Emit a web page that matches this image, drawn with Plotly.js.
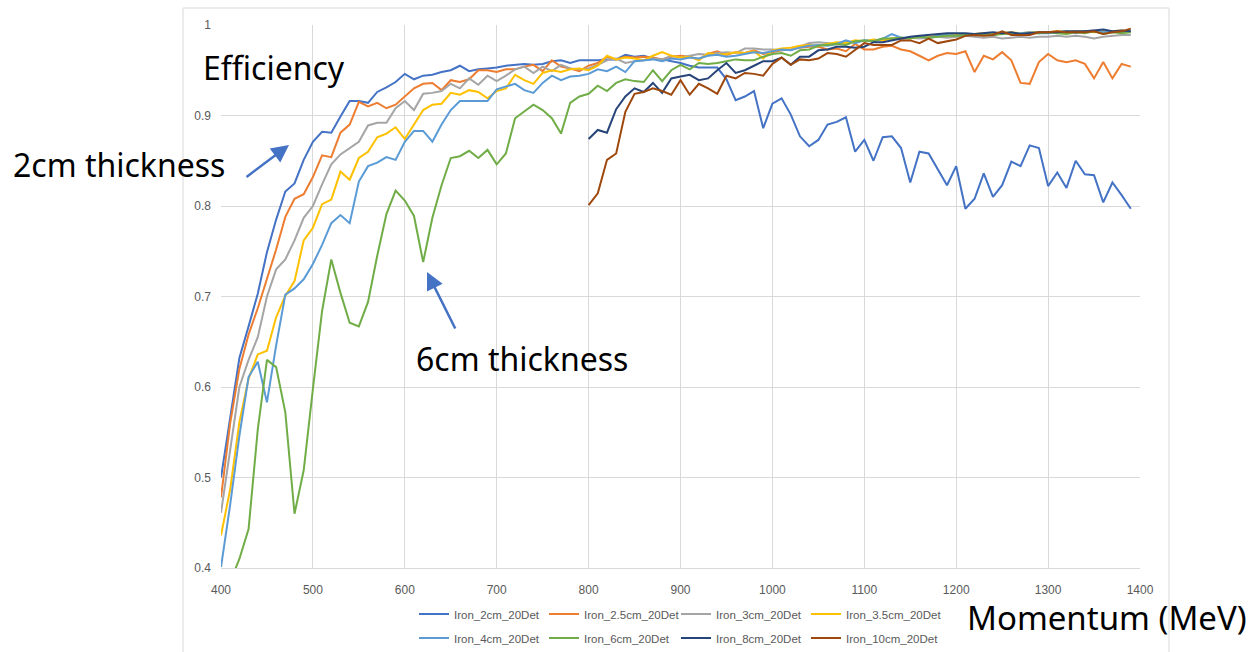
<!DOCTYPE html>
<html>
<head>
<meta charset="utf-8">
<script src="https://cdn.plot.ly/plotly-3.0.1.min.js"></script>
<style>html,body{margin:0;padding:0;background:#fff;}#chart{width:1250px;height:652px;}</style>
</head>
<body>
<div id="chart"></div>
<script>
// Momentum (MeV)
const momentum = [];
for (let m = 400; m <= 1390; m += 10) momentum.push(m);

const seriesNames = ["Iron_2cm_20Det","Iron_2.5cm_20Det","Iron_3cm_20Det","Iron_3.5cm_20Det",
                     "Iron_4cm_20Det","Iron_6cm_20Det","Iron_8cm_20Det","Iron_10cm_20Det"];

const iron2cm = [
0.500,0.565,0.632,0.667,0.703,0.749,0.785,0.816,0.825,0.851,
0.871,0.882,0.881,0.899,0.916,0.916,0.914,0.926,0.931,0.937,
0.946,0.940,0.944,0.945,0.948,0.950,0.955,0.949,0.951,0.952,
0.953,0.955,0.956,0.957,0.956,0.957,0.960,0.961,0.958,0.961,
0.961,0.961,0.962,0.962,0.967,0.965,0.966,0.963,0.962,0.960,
0.958,0.955,0.953,0.953,0.953,0.940,0.917,0.921,0.927,0.886,
0.913,0.919,0.901,0.877,0.866,0.873,0.890,0.893,0.898,0.860,
0.873,0.850,0.876,0.877,0.864,0.826,0.860,0.858,0.840,0.823,
0.844,0.797,0.808,0.836,0.810,0.823,0.849,0.844,0.867,0.864,
0.822,0.837,0.820,0.850,0.835,0.834,0.804,0.826,0.812,0.797];

const iron25cm = [
0.478,0.560,0.620,0.658,0.687,0.719,0.752,0.788,0.808,0.813,
0.832,0.856,0.854,0.881,0.890,0.915,0.910,0.914,0.908,0.912,
0.921,0.930,0.935,0.936,0.928,0.939,0.937,0.940,0.950,0.950,
0.948,0.951,0.951,0.954,0.956,0.949,0.961,0.954,0.952,0.949,
0.955,0.958,0.965,0.962,0.965,0.964,0.965,0.964,0.962,0.965,
0.966,0.965,0.962,0.968,0.971,0.967,0.970,0.969,0.972,0.968,
0.970,0.972,0.973,0.975,0.976,0.976,0.973,0.974,0.971,0.979,
0.973,0.973,0.976,0.977,0.973,0.971,0.966,0.961,0.966,0.969,
0.968,0.971,0.948,0.966,0.962,0.970,0.961,0.936,0.935,0.959,
0.968,0.961,0.959,0.961,0.957,0.941,0.959,0.941,0.957,0.954];

const iron3cm = [
0.461,0.530,0.600,0.630,0.655,0.700,0.730,0.741,0.762,0.787,
0.800,0.824,0.846,0.857,0.864,0.871,0.889,0.892,0.892,0.908,
0.916,0.906,0.924,0.925,0.927,0.935,0.930,0.941,0.934,0.944,
0.938,0.944,0.951,0.954,0.947,0.954,0.949,0.956,0.952,0.951,
0.952,0.956,0.961,0.963,0.958,0.960,0.961,0.963,0.962,0.966,
0.964,0.966,0.968,0.967,0.969,0.970,0.969,0.974,0.974,0.973,
0.973,0.972,0.973,0.976,0.980,0.981,0.980,0.979,0.981,0.982,
0.983,0.982,0.984,0.985,0.984,0.986,0.985,0.986,0.987,0.986,
0.987,0.988,0.987,0.986,0.987,0.985,0.986,0.987,0.986,0.987,
0.987,0.988,0.987,0.988,0.987,0.985,0.987,0.988,0.989,0.989];

const iron35cm = [
0.436,0.487,0.561,0.609,0.636,0.640,0.677,0.701,0.717,0.762,
0.776,0.802,0.807,0.838,0.829,0.853,0.860,0.876,0.880,0.887,
0.874,0.890,0.906,0.912,0.913,0.925,0.923,0.928,0.926,0.919,
0.927,0.930,0.945,0.939,0.935,0.947,0.950,0.948,0.951,0.952,
0.950,0.955,0.966,0.962,0.964,0.963,0.961,0.966,0.970,0.966,
0.964,0.965,0.961,0.969,0.967,0.968,0.970,0.969,0.971,0.963,
0.972,0.974,0.975,0.977,0.978,0.977,0.979,0.981,0.980,0.983,
0.982,0.984,0.983,0.985,0.986,0.985,0.987,0.987,0.988,0.988,
0.989,0.990,0.990,0.991,0.990,0.991,0.992,0.991,0.992,0.992,
0.992,0.993,0.992,0.993,0.993,0.992,0.993,0.993,0.994,0.993];

const iron4cm = [
0.401,0.470,0.546,0.611,0.628,0.583,0.646,0.702,0.709,0.719,
0.736,0.757,0.781,0.790,0.781,0.827,0.844,0.848,0.854,0.851,
0.871,0.883,0.883,0.871,0.890,0.906,0.916,0.916,0.916,0.916,
0.929,0.932,0.935,0.928,0.925,0.936,0.944,0.939,0.943,0.944,
0.946,0.951,0.949,0.954,0.948,0.960,0.961,0.962,0.960,0.963,
0.962,0.964,0.963,0.966,0.967,0.965,0.966,0.968,0.970,0.969,
0.971,0.973,0.972,0.975,0.977,0.978,0.977,0.979,0.983,0.980,
0.983,0.982,0.985,0.990,0.986,0.986,0.987,0.986,0.988,0.989,
0.988,0.989,0.990,0.990,0.989,0.991,0.990,0.991,0.992,0.991,
0.991,0.992,0.993,0.991,0.993,0.994,0.992,0.993,0.992,0.993];

const iron6cm = [
0.370,0.385,0.410,0.443,0.553,0.630,0.622,0.572,0.460,0.508,
0.598,0.684,0.741,0.704,0.671,0.667,0.694,0.745,0.791,0.817,
0.806,0.789,0.738,0.787,0.823,0.853,0.855,0.861,0.853,0.862,
0.846,0.858,0.897,0.905,0.912,0.906,0.897,0.880,0.914,0.921,
0.924,0.933,0.927,0.936,0.940,0.938,0.937,0.950,0.938,0.950,
0.956,0.951,0.958,0.957,0.958,0.960,0.962,0.961,0.961,0.965,
0.968,0.969,0.966,0.972,0.973,0.977,0.978,0.979,0.978,0.982,
0.983,0.982,0.985,0.985,0.986,0.985,0.987,0.986,0.987,0.988,
0.988,0.989,0.989,0.990,0.989,0.990,0.991,0.990,0.991,0.991,
0.992,0.991,0.990,0.992,0.991,0.993,0.990,0.992,0.991,0.992];

// 8 cm and 10 cm start at 800 MeV (blank before)
const iron8cm = [
null,null,null,null,null,null,null,null,null,null,
null,null,null,null,null,null,null,null,null,null,
null,null,null,null,null,null,null,null,null,null,
null,null,null,null,null,null,null,null,null,null,
0.874,0.884,0.881,0.907,0.921,0.930,0.926,0.936,0.925,0.941,
0.943,0.945,0.939,0.941,0.950,0.958,0.947,0.950,0.955,0.960,
0.960,0.964,0.956,0.965,0.965,0.972,0.973,0.976,0.976,0.975,
0.976,0.981,0.981,0.983,0.985,0.987,0.988,0.989,0.990,0.991,
0.991,0.991,0.990,0.991,0.992,0.991,0.992,0.990,0.991,0.992,
0.992,0.992,0.993,0.993,0.993,0.994,0.995,0.993,0.994,0.993];

const iron10cm = [
null,null,null,null,null,null,null,null,null,null,
null,null,null,null,null,null,null,null,null,null,
null,null,null,null,null,null,null,null,null,null,
null,null,null,null,null,null,null,null,null,null,
0.801,0.814,0.851,0.858,0.904,0.924,0.926,0.930,0.927,0.923,
0.939,0.923,0.935,0.930,0.924,0.944,0.941,0.947,0.946,0.944,
0.957,0.964,0.956,0.962,0.961,0.963,0.969,0.968,0.965,0.972,
0.980,0.978,0.978,0.978,0.983,0.983,0.980,0.985,0.980,0.982,
0.984,0.988,0.989,0.988,0.989,0.993,0.989,0.989,0.989,0.992,
0.992,0.993,0.992,0.992,0.992,0.993,0.990,0.992,0.993,0.996];

const xTicks = [400,500,600,700,800,900,1000,1100,1200,1300,1400];
const yTicks = [0.4,0.5,0.6,0.7,0.8,0.9,1];
const yTickText = ["0.4","0.5","0.6","0.7","0.8","0.9","1"];

const seriesValues = [iron2cm, iron25cm, iron3cm, iron35cm, iron4cm, iron6cm, iron8cm, iron10cm];
const colors = ["#4472C4","#ED7D31","#A5A5A5","#FFC000","#5B9BD5","#70AD47","#264478","#9E480E"];

const legendIds = ["legend","legend2","legend3","legend4","legend5","legend6","legend7","legend8"];

const traces = seriesValues.map((vals, i) => ({
  type: "scatter", mode: "lines", x: momentum, y: vals, name: seriesNames[i],
  line: {color: colors[i], width: 2}, connectgaps: false,
  legend: legendIds[i]
}));

// pixel -> paper helpers (plot area 221..1140 x, 25..568 y)
const L = 221, R = 1140, T = 25, B = 568;
const px = v => (v - L) / (R - L);
const py = v => (B - v) / (B - T);

const bigFont = {family: "Noto Sans, Open Sans, sans-serif", size: 32, color: "#000"};
const tickFont = {family: "Liberation Sans, Arial, sans-serif", size: 12, color: "#595959"};
const legendFont = {family: "Liberation Sans, Arial, sans-serif", size: 11.5, color: "#595959"};

function label(text, cx, cy, size) {
  return {xref: "paper", yref: "paper", x: px(cx), y: py(cy), xanchor: "center", yanchor: "middle",
          text: text, showarrow: false, font: Object.assign({}, bigFont, size ? {size: size} : {})};
}

const layout = {
  width: 1250, height: 652,
  margin: {l: L, r: 1250 - R, t: T, b: 652 - B, autoexpand: false},
  paper_bgcolor: "#fff", plot_bgcolor: "#fff",
  showlegend: true,
  xaxis: {range: [400, 1400], tickvals: xTicks, ticktext: xTicks.map(String),
    showgrid: true, gridcolor: "#d9d9d9", gridwidth: 1, zeroline: false,
    showline: true, linecolor: "#d9d9d9", linewidth: 1, mirror: false,
    ticks: "", ticklabelstandoff: 11, tickfont: tickFont},
  yaxis: {range: [0.4, 1], tickvals: yTicks, ticktext: yTickText,
    showgrid: true, gridcolor: "#d9d9d9", gridwidth: 1, zeroline: false,
    showline: false, ticks: "", ticklabelstandoff: 9, tickfont: tickFont},
  shapes: [
    {type: "rect", xref: "paper", yref: "paper", x0: px(183), x1: px(1169), y0: py(680), y1: py(8),
     line: {color: "#d9d9d9", width: 1}, fillcolor: "rgba(0,0,0,0)", layer: "below"}
  ],
  annotations: [
    label("Efficiency", 274, 67),
    label("2cm thickness", 119, 164),
    label("6cm thickness", 522, 358),
    label("Momentum (MeV)", 1107, 617, 33),
    {xref: "paper", yref: "paper", x: px(289), y: py(145), text: "", showarrow: true,
     ax: -44, ay: 33, arrowhead: 2, arrowsize: 1.4, arrowwidth: 2.5, arrowcolor: "#4472C4", standoff: 0},
    {xref: "paper", yref: "paper", x: px(427), y: py(272), text: "", showarrow: true,
     ax: 29, ay: 58, arrowhead: 2, arrowsize: 1.4, arrowwidth: 2.5, arrowcolor: "#4472C4", standoff: 0}
  ]
};

// one legend box per entry, laid out as a 4 x 2 grid
const colStart = [420, 550, 682, 812];
const rowY = [614, 638];
legendIds.forEach((id, i) => {
  layout[id] = {orientation: "h", xanchor: "left", yanchor: "middle",
    x: px(colStart[i % 4] - 6), y: py(rowY[Math.floor(i / 4)]),
    font: legendFont, bgcolor: "rgba(0,0,0,0)", itemwidth: 30};
});

Plotly.newPlot("chart", traces, layout, {displayModeBar: false, staticPlot: true});
</script>
</body>
</html>
